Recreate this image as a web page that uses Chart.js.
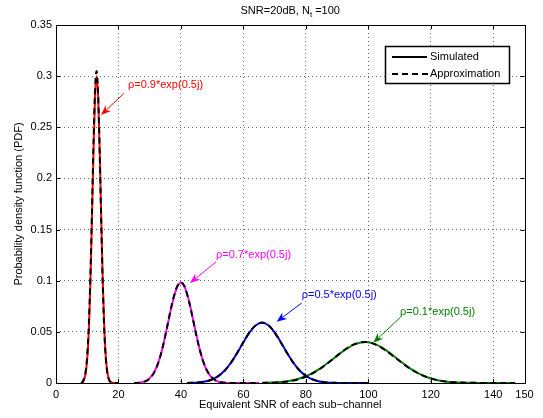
<!DOCTYPE html>
<html>
<head>
<meta charset="utf-8">
<script src="https://cdn.jsdelivr.net/npm/chart.js@4"></script>
<style>
  html, body { margin: 0; padding: 0; background: #fff; }
  #wrap { width: 543px; height: 418px; }
</style>
</head>
<body>
<div id="wrap"><canvas id="c" width="543" height="418"></canvas></div>
<script>
  // x ticks and labels
  var xTicks = [0, 20, 40, 60, 80, 100, 120, 140, 150];
  var yTicks = [0, 0.05, 0.1, 0.15, 0.2, 0.25, 0.3, 0.35];

  // rho = 0.9
  var redX = [8, 8.5, 9, 9.5, 10, 10.5, 11, 11.5, 12, 12.5, 13, 13.5, 14, 14.5, 15, 15.5, 16, 16.5, 17, 17.5, 18, 18.5, 19, 19.5, 20];
  var redSim = [0, 0.0001, 0.0033, 0.0094, 0.0236, 0.051, 0.097, 0.159, 0.226, 0.280, 0.300, 0.280, 0.226, 0.159, 0.097, 0.051, 0.0236, 0.0094, 0.0033, 0.0010, 0.0003, 0.0001, 0, 0, 0];
  var redApprox = [0.0002, 0.0012, 0.0045, 0.0115, 0.027, 0.056, 0.103, 0.166, 0.233, 0.287, 0.305, 0.281, 0.224, 0.155, 0.093, 0.048, 0.0215, 0.0085, 0.0029, 0.0009, 0.0002, 0, 0, 0, 0];

  // rho = 0.7
  var magX = [25, 26, 27, 28, 29, 30, 31, 32, 33, 34, 35, 36, 37, 38, 39, 40, 41, 42, 43, 44, 45, 46, 47, 48, 49, 50, 51, 52, 53, 54, 55, 56, 57, 58, 59, 60, 61, 62, 63, 64, 65];
  var magSim = [0.0001, 0.0003, 0.0006, 0.0013, 0.0025, 0.0048, 0.0085, 0.0142, 0.0223, 0.0330, 0.0461, 0.0605, 0.0747, 0.0868, 0.0951, 0.0980, 0.0951, 0.0868, 0.0747, 0.0605, 0.0461, 0.0330, 0.0223, 0.0142, 0.0085, 0.0048, 0.0025, 0.0013, 0.0006, 0.0003, 0.0001, 0, 0, 0, 0, 0, 0, 0, 0, 0, 0];
  var magApprox = [0, 0.0001, 0.0004, 0.0010, 0.0021, 0.0043, 0.0080, 0.0138, 0.0220, 0.0330, 0.0464, 0.0611, 0.0755, 0.0876, 0.0958, 0.0985, 0.0953, 0.0866, 0.0742, 0.0599, 0.0456, 0.0328, 0.0223, 0.0144, 0.0088, 0.0051, 0.0028, 0.0015, 0.0007, 0.0003, 0.0001, 0, 0, 0, 0, 0, 0, 0, 0, 0, 0];

  // rho = 0.5
  var blueX = [42, 44, 46, 48, 50, 52, 54, 56, 58, 60, 62, 64, 66, 68, 70, 72, 74, 76, 78, 80, 82, 84, 86, 88, 90, 92, 94, 96, 98, 100];
  var blueSim = [0.0001, 0.0003, 0.0007, 0.0017, 0.0036, 0.0069, 0.0122, 0.0198, 0.0293, 0.0398, 0.0495, 0.0565, 0.0590, 0.0565, 0.0495, 0.0398, 0.0293, 0.0198, 0.0122, 0.0069, 0.0036, 0.0017, 0.0007, 0.0003, 0.0001, 0, 0, 0, 0, 0];
  var blueApprox = [0.0001, 0.0002, 0.0006, 0.0015, 0.0034, 0.0067, 0.0120, 0.0197, 0.0294, 0.0400, 0.0498, 0.0567, 0.0591, 0.0564, 0.0492, 0.0395, 0.0291, 0.0197, 0.0123, 0.0071, 0.0038, 0.0019, 0.0008, 0.0003, 0.0001, 0, 0, 0, 0, 0];

  // rho = 0.1
  var greenX = [66, 69, 72, 75, 78, 81, 84, 87, 90, 93, 96, 99, 102, 105, 108, 111, 114, 117, 120, 123, 126, 129, 132, 135, 138, 141, 144, 147];
  var greenSim = [0.0002, 0.0004, 0.0010, 0.0022, 0.0044, 0.0079, 0.0130, 0.0195, 0.0267, 0.0334, 0.0382, 0.0400, 0.0382, 0.0334, 0.0267, 0.0195, 0.0130, 0.0079, 0.0044, 0.0022, 0.0010, 0.0004, 0.0002, 0.0001, 0, 0, 0, 0];
  var greenApprox = [0.0001, 0.0003, 0.0008, 0.0019, 0.0040, 0.0075, 0.0127, 0.0194, 0.0268, 0.0337, 0.0385, 0.0401, 0.0380, 0.0330, 0.0262, 0.0191, 0.0128, 0.0079, 0.0045, 0.0024, 0.0011, 0.0005, 0.0002, 0.0001, 0, 0, 0, 0];

  var legendLabels = ['Simulated', 'Approximation'];

  var notes = [
    { text: 'ρ=0.9*exp(0.5j)', color: '#ff0000', tx: 23.05, ty: 0.2913, ax: 21.77, ay: 0.2832, px: 14.41, py: 0.2620 },
    { text: 'ρ=0.7*exp(0.5j)', color: '#ff00ff', tx: 51.23, ty: 0.1251, ax: 51.23, ay: 0.1183, px: 42.90, py: 0.0978 },
    { text: 'ρ=0.5*exp(0.5j)', color: '#0000ff', tx: 78.67, ty: 0.0860, ax: 78.67, ay: 0.0782, px: 70.66, py: 0.0599 },
    { text: 'ρ=0.1*exp(0.5j)', color: '#008000', tx: 110.14, ty: 0.0694, ax: 110.37, ay: 0.0645, px: 101.59, py: 0.0394 }
  ];

  var FONT = '"Liberation Sans", Arial, Helvetica, sans-serif';

  function pts(xs, ys) {
    return xs.map(function (x, i) { return { x: x, y: ys[i] }; });
  }

  function solid(xs, ys, col) {
    return { data: pts(xs, ys), borderColor: col, borderWidth: 2, pointRadius: 0,
      cubicInterpolationMode: 'monotone', fill: false };
  }

  function dashed(xs, ys) {
    return { data: pts(xs, ys), borderColor: '#000', borderWidth: 2, borderDash: [6, 4],
      pointRadius: 0, cubicInterpolationMode: 'monotone', fill: false };
  }

  function drawArrow(ctx, x0, y0, x1, y1, col) {
    var ang = Math.atan2(y1 - y0, x1 - x0);
    var len = 10, half = 4, back = 7;
    ctx.strokeStyle = col;
    ctx.fillStyle = col;
    ctx.lineWidth = 1;
    ctx.beginPath();
    ctx.moveTo(x0, y0);
    ctx.lineTo(x1 - Math.cos(ang) * back, y1 - Math.sin(ang) * back);
    ctx.stroke();
    var c = Math.cos(ang), s = Math.sin(ang);
    ctx.beginPath();
    ctx.moveTo(x1, y1);
    ctx.lineTo(x1 - c * len + s * half, y1 - s * len - c * half);
    ctx.lineTo(x1 - c * back, y1 - s * back);
    ctx.lineTo(x1 - c * len - s * half, y1 - s * len + c * half);
    ctx.closePath();
    ctx.fill();
  }

  var decor = {
    id: 'decor',
    afterDatasetsDraw: function (chart) {
      var ctx = chart.ctx, a = chart.chartArea;
      var xs = chart.scales.x, ys = chart.scales.y;
      ctx.save();

      // axes box
      ctx.strokeStyle = '#000';
      ctx.lineWidth = 1;
      ctx.setLineDash([]);
      ctx.strokeRect(Math.round(a.left) + 0.5, Math.round(a.top) + 0.5,
        Math.round(a.right - a.left), Math.round(a.bottom - a.top));

      // inner tick marks
      ctx.beginPath();
      xTicks.forEach(function (v) {
        var p = Math.round(xs.getPixelForValue(v)) + 0.5;
        ctx.moveTo(p, a.bottom); ctx.lineTo(p, a.bottom - 4);
        ctx.moveTo(p, a.top); ctx.lineTo(p, a.top + 4);
      });
      yTicks.forEach(function (v) {
        var p = Math.round(ys.getPixelForValue(v)) + 0.5;
        ctx.moveTo(a.left, p); ctx.lineTo(a.left + 4, p);
        ctx.moveTo(a.right, p); ctx.lineTo(a.right - 4, p);
      });
      ctx.stroke();

      // annotations
      ctx.font = '11px ' + FONT;
      ctx.textBaseline = 'middle';
      ctx.textAlign = 'left';
      notes.forEach(function (n) {
        ctx.fillStyle = n.color;
        ctx.fillText(n.text, xs.getPixelForValue(n.tx), ys.getPixelForValue(n.ty));
        drawArrow(ctx, xs.getPixelForValue(n.ax), ys.getPixelForValue(n.ay),
          xs.getPixelForValue(n.px), ys.getPixelForValue(n.py), n.color);
      });

      // legend box
      var lx = 385, ly = 46, lw = 124, lh = 37;
      ctx.fillStyle = '#fff';
      ctx.fillRect(lx, ly, lw, lh);
      ctx.strokeStyle = '#000';
      ctx.lineWidth = 1.5;
      ctx.strokeRect(lx + 0.5, ly + 0.5, lw, lh);
      ctx.lineWidth = 2;
      ctx.beginPath();
      ctx.moveTo(392, 57); ctx.lineTo(427, 57);
      ctx.stroke();
      ctx.setLineDash([6, 4]);
      ctx.beginPath();
      ctx.moveTo(392, 74); ctx.lineTo(428, 74);
      ctx.stroke();
      ctx.setLineDash([]);
      ctx.fillStyle = '#000';
      ctx.fillText(legendLabels[0], 430, 57);
      ctx.fillText(legendLabels[1], 430, 74);

      // title with subscript
      var cx = (a.left + a.right) / 2;
      var t1 = 'SNR=20dB, N', t2 = 't', t3 = ' =100';
      ctx.font = '11px ' + FONT;
      var w1 = ctx.measureText(t1).width, w3 = ctx.measureText(t3).width;
      ctx.font = '8px ' + FONT;
      var w2 = ctx.measureText(t2).width;
      var sx = cx - (w1 + w2 + w3) / 2;
      ctx.font = '11px ' + FONT;
      ctx.fillText(t1, sx, 11);
      ctx.font = '8px ' + FONT;
      ctx.fillText(t2, sx + w1, 15);
      ctx.font = '11px ' + FONT;
      ctx.fillText(t3, sx + w1 + w2, 11);

      // axis titles
      ctx.textAlign = 'center';
      ctx.fillText('Equivalent SNR of each sub\u2212channel', cx, 405);
      ctx.save();
      ctx.translate(19, (a.top + a.bottom) / 2);
      ctx.rotate(-Math.PI / 2);
      ctx.fillText('Probability density function (PDF)', 0, 0);
      ctx.restore();

      ctx.restore();
    }
  };

  function gridColor(ctx) {
    var v = ctx.tick ? ctx.tick.value : null;
    if (v === 0 || v === 150 || v === 0.35) return 'rgba(0,0,0,0)';
    return 'rgba(0,0,0,0.6)';
  }

  new Chart(document.getElementById('c'), {
    type: 'line',
    data: {
      datasets: [
        dashed(redX, redApprox),
        dashed(magX, magApprox),
        dashed(blueX, blueApprox),
        dashed(greenX, greenApprox),
        solid(redX, redSim, '#ff0000'),
        solid(magX, magSim, '#ff00ff'),
        solid(blueX, blueSim, '#0000ff'),
        solid(greenX, greenSim, '#008000')
      ]
    },
    options: {
      responsive: false,
      animation: false,
      layout: { padding: { top: 25, right: 18.5, left: 0, bottom: 0 } },
      plugins: { legend: { display: false }, tooltip: { enabled: false } },
      scales: {
        x: {
          type: 'linear', min: 0, max: 150,
          afterBuildTicks: function (s) { s.ticks = xTicks.map(function (v) { return { value: v }; }); },
          afterFit: function (s) { s.height = 35; },
          ticks: { color: '#000', font: { family: FONT, size: 11 }, padding: 5, maxRotation: 0,
            callback: function (v) { return String(v); } },
          grid: { color: gridColor, lineWidth: 1, drawTicks: false },
          border: { display: false, dash: [1, 3] }
        },
        y: {
          type: 'linear', min: 0, max: 0.35,
          afterBuildTicks: function (s) { s.ticks = yTicks.map(function (v) { return { value: v }; }); },
          afterFit: function (s) { s.width = 56; },
          ticks: { color: '#000', font: { family: FONT, size: 11 }, padding: 4,
            callback: function (v) { return String(Math.round(v * 100) / 100); } },
          grid: { color: gridColor, lineWidth: 1, drawTicks: false },
          border: { display: false, dash: [1, 3] }
        }
      }
    },
    plugins: [decor]
  });
</script>
</body>
</html>
